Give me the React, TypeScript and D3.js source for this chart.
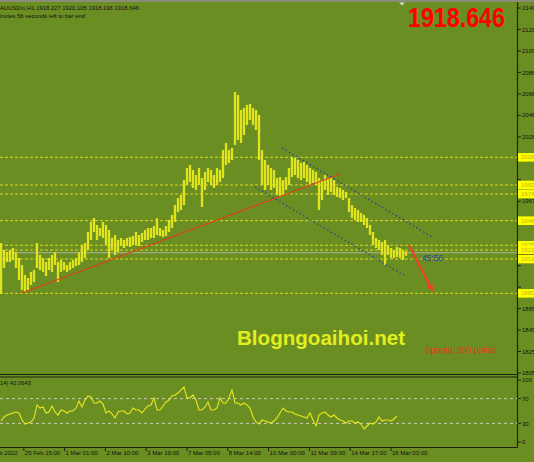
import React from 'react';
import * as d3 from 'd3';

const W = 534;
const H = 462;

const priceHigh = [
  1927.8, 1921.2, 1919.3, 1921.2, 1923.1, 1919.3, 1913.7, 1907.1, 1897.6, 1894.8,
  1900.5, 1902.3, 1927.8, 1916.5, 1913.7, 1909.9, 1913.7, 1916.5, 1919.3, 1909.9,
  1911.8, 1909.9, 1907.1, 1909.9, 1911.8, 1913.7, 1919.3, 1926.0, 1927.8, 1938.2,
  1947.7, 1951.4, 1944.8, 1942.0, 1947.7, 1944.8, 1940.1, 1932.6, 1935.4, 1930.7,
  1932.6, 1930.7, 1932.6, 1933.5, 1934.4, 1938.2, 1935.4, 1937.3, 1940.1, 1942.0,
  1942.0, 1943.9, 1951.4, 1942.0, 1940.1, 1943.9, 1949.6, 1954.3, 1963.7, 1970.3,
  1973.2, 1987.3, 1998.6, 2001.5, 1996.8, 1992.0, 1998.6, 1989.2, 1994.9, 1998.6,
  1996.8, 1992.0, 1998.6, 1996.8, 2015.6, 2022.2, 2015.6, 2017.5, 2070.4, 2067.6,
  2053.4, 2055.3, 2058.1, 2059.1, 2055.3, 2053.4, 2048.7, 2015.6, 2006.2, 2001.5,
  1998.6, 1996.8, 1989.2, 1990.1, 1987.3, 1990.1, 1998.6, 2009.0, 2008.1, 2006.2,
  2003.4, 2004.3, 2001.5, 1998.6, 1996.8, 1994.9, 1989.2, 1987.3, 1992.0, 1989.2,
  1990.1, 1987.3, 1980.7, 1979.8, 1977.9, 1976.0, 1970.3, 1963.7, 1960.9, 1959.0,
  1956.2, 1954.3, 1951.4, 1944.8, 1938.2, 1932.6, 1930.7, 1928.8, 1930.7, 1926.0,
  1923.1, 1921.2, 1924.1, 1923.1, 1921.2, 1920.1,
];

const priceLow = [
  1879.7, 1904.2, 1909.9, 1909.9, 1911.8, 1904.2, 1892.9, 1883.5, 1881.6, 1883.5,
  1888.2, 1891.0, 1904.2, 1902.3, 1900.5, 1896.7, 1902.3, 1900.5, 1907.1, 1891.0,
  1900.5, 1902.3, 1900.5, 1902.3, 1904.2, 1906.1, 1907.1, 1909.9, 1913.7, 1921.2,
  1930.7, 1938.2, 1930.7, 1934.4, 1932.6, 1926.0, 1913.7, 1921.2, 1916.5, 1919.3,
  1925.0, 1923.1, 1925.0, 1924.1, 1926.0, 1926.0, 1925.0, 1928.8, 1930.7, 1930.7,
  1932.6, 1932.6, 1935.4, 1934.4, 1933.5, 1934.4, 1938.2, 1942.0, 1947.7, 1957.1,
  1959.0, 1963.7, 1982.6, 1985.4, 1979.8, 1977.9, 1982.6, 1961.8, 1977.9, 1985.4,
  1982.6, 1979.8, 1982.6, 1985.4, 1989.2, 2001.5, 2003.4, 2006.2, 2020.4, 2025.1,
  2022.2, 2029.8, 2039.2, 2044.0, 2039.2, 2034.5, 2006.2, 1982.6, 1977.9, 1982.6,
  1977.9, 1979.8, 1973.2, 1971.3, 1972.2, 1977.9, 1982.6, 1990.1, 1992.0, 1989.2,
  1987.3, 1989.2, 1985.4, 1982.6, 1984.5, 1982.6, 1959.0, 1968.4, 1977.9, 1973.2,
  1976.0, 1973.2, 1971.3, 1970.3, 1968.4, 1970.3, 1957.1, 1951.4, 1949.6, 1947.7,
  1947.7, 1944.8, 1942.0, 1935.4, 1926.0, 1923.1, 1921.2, 1916.5, 1907.1, 1916.5,
  1913.7, 1913.7, 1914.6, 1913.7, 1911.8, 1915.6,
];

const rsiValues = [
  33.9, 40.3, 43.5, 45.2, 46.8, 48.4, 46.8, 35.5, 29.0, 30.6,
  32.3, 38.7, 59.7, 54.8, 56.5, 46.8, 48.4, 58.1, 48.4, 43.5,
  51.6, 50.0, 46.8, 50.0, 50.0, 54.8, 66.1, 56.5, 67.7, 74.2,
  72.6, 62.9, 62.9, 66.1, 61.3, 46.8, 50.0, 45.2, 38.7, 48.4,
  50.0, 50.0, 45.2, 46.8, 54.8, 51.6, 51.6, 46.8, 53.2, 58.1,
  59.7, 71.0, 51.6, 51.6, 58.1, 64.5, 67.7, 74.2, 75.8, 79.0,
  83.9, 88.7, 71.0, 71.0, 75.8, 67.7, 51.6, 51.6, 56.5, 64.5,
  51.6, 51.6, 54.8, 71.0, 62.9, 62.9, 71.0, 83.9, 62.9, 62.9,
  59.7, 62.9, 59.7, 54.8, 40.3, 32.3, 29.0, 35.5, 33.9, 32.3,
  30.6, 33.9, 38.7, 46.8, 54.8, 50.0, 48.4, 48.4, 45.2, 43.5,
  41.9, 40.3, 38.7, 46.8, 35.5, 25.8, 43.5, 46.8, 48.4, 43.5,
  40.3, 43.5, 38.7, 35.5, 33.9, 30.6, 33.9, 33.9, 30.6, 32.3,
  29.0, 21.0, 25.8, 30.6, 29.0, 32.3, 40.3, 33.9, 35.5, 35.5,
  33.9, 37.1, 42.06,
];

const priceTicks = [
  2149.69, 2129.42, 2109.15, 2088.88, 2068.61, 2048.34, 2028.07, 2007.8, 1987.53,
  1967.26, 1946.99, 1926.72, 1906.45, 1886.18, 1865.91, 1845.64, 1825.37, 1805.1,
];
const levelLines = [2008.7, 1982.6, 1974.1, 1948.9, 1925.7, 1921.2, 1912.7, 1880.3];
const rsiTicks = [100, 70, 30, 0];
const rsiLevels = [70, 30];
const dateLabels = [
  '24 Feb 2022', '25 Feb 15:00', '1 Mar 01:00', '2 Mar 10:00', '3 Mar 19:00',
  '7 Mar 05:00', '8 Mar 14:00', '10 Mar 00:00', '11 Mar 09:00', '14 Mar 17:00', '16 Mar 03:00',
];
const bid = 1918.646;
const ohlc = ['1918.227', '1920.105', '1918.196', '1918.646'];
const symbol = 'XAUUSDm,H1';
const rsiTitle = 'RSI(14) 42.0643';
const timerText = '45 minutes 56 seconds left to bar end';
const countdown = '45:56';
const watermark = 'Blogngoaihoi.net';
const spreadText = 'Spread: 200 points.';
// trend objects: [barIndex, price]
const trendRed: [number, number][] = [[7, 1880.6], [113, 1993.0]];
const channelUpper: [number, number][] = [[93.7, 2017.5], [143.7, 1933.5]];
const channelLower: [number, number][] = [[84.7, 1980.7], [134.7, 1896.7]];
const arrowLine: [number, number][] = [[136, 1926.0], [144, 1881.6]];

const FONT = "'Liberation Sans', Arial, sans-serif";
const BG = '#6B8E23';
const BAR = '#E0E41C';
const LEVEL = '#D9DC22';
const DARK = '#1E2410';

export default function App() {
  const x = d3.scaleLinear().domain([0, priceHigh.length - 1]).range([1, 406]);
  const y = d3.scaleLinear().domain([1805.1, 2149.69]).range([373, 8]);
  const ry = d3.scaleLinear().domain([0, 100]).range([442, 380]);
  const dx = d3.scalePoint<string>().domain(dateLabels).range([-16, 392]);

  const rsiLine = d3
    .line<number>()
    .x((_, i) => x(i))
    .y((d) => ry(d))(rsiValues) as string;

  const seg = (p: [number, number][]) => ({
    x1: x(p[0][0]), y1: y(p[0][1]), x2: x(p[1][0]), y2: y(p[1][1]),
  });
  const red = seg(trendRed);
  const up = seg(channelUpper);
  const lo = seg(channelLower);
  const ar = seg(arrowLine);
  const ang = Math.atan2(ar.y2 - ar.y1, ar.x2 - ar.x1);
  const headLen = 8;
  const headW = 3.5;
  const bx = ar.x2 - headLen * Math.cos(ang);
  const by = ar.y2 - headLen * Math.sin(ang);
  const head = [
    [ar.x2, ar.y2],
    [bx + headW * Math.sin(ang), by - headW * Math.cos(ang)],
    [bx - headW * Math.sin(ang), by + headW * Math.cos(ang)],
  ]
    .map((p) => p.join(','))
    .join(' ');

  const axisX = 517.5;
  // tick labels hidden under the highlighted level labels are not drawn
  const visibleTicks = priceTicks.filter(
    (v) => !levelLines.some((l) => Math.abs(y(l) - y(v)) < 7)
  );

  return (
    <svg
      width={W}
      height={H}
      style={{ position: 'absolute', left: 0, top: 0, display: 'block' }}
      fontFamily={FONT}
    >
      <rect x={0} y={0} width={W} height={H} fill={BG} />
      <rect x={0} y={0} width={W} height={2} fill="#8A8C78" />
      <path d="M399,2.5 L405,2.5 L402,5.5 Z" fill="#D8D8D0" />

      {/* level lines */}
      {levelLines.map((v, i) => (
        <line key={'lv' + i} x1={0} x2={axisX} y1={y(v)} y2={y(v)} stroke={LEVEL} strokeWidth={1} strokeDasharray="3,2" />
      ))}

      {/* bid line */}
      <line x1={0} x2={axisX} y1={y(bid)} y2={y(bid)} stroke="#B0B4A0" strokeWidth={1} />

      {/* price bars */}
      {priceHigh.map((h, i) => (
        <line key={'b' + i} x1={x(i)} x2={x(i)} y1={y(h)} y2={y(priceLow[i])} stroke={BAR} strokeWidth={2.3} />
      ))}

      {/* trend objects */}
      <line {...red} stroke="#E0401A" strokeWidth={1.1} />
      <line {...up} stroke="#2A3E9A" strokeWidth={1.2} strokeDasharray="1.5,2.5" />
      <line {...lo} stroke="#2A3E9A" strokeWidth={1.2} strokeDasharray="1.5,2.5" />
      <line x1={ar.x1} y1={ar.y1} x2={bx} y2={by} stroke="#F0402C" strokeWidth={2.2} />
      <polygon points={head} fill="#F0402C" />
      <text x={x(140.3)} y={260.5} fontSize={8.5} fill="#2E40B0" fontFamily={FONT}>{countdown}</text>

      {/* texts */}
      <text x={-4} y={9.5} fontSize={6} fill="#111" textLength={143} lengthAdjust="spacingAndGlyphs">
        {symbol + '  ' + ohlc.join(' ')}
      </text>
      <text x={-13.5} y={17.5} fontSize={6} fill="#111" textLength={98.5} lengthAdjust="spacingAndGlyphs">
        {timerText}
      </text>
      <g transform="translate(408,27) scale(0.83,1)">
        <text x={0} y={0} fontSize={28} fontWeight="bold" fill="#FF0000">
          {bid.toFixed(3)}
        </text>
      </g>
      <text x={237} y={345} fontSize={20.5} fontWeight="bold" fill="#E2EE1E" textLength={168} lengthAdjust="spacingAndGlyphs">
        {watermark}
      </text>
      <text x={425} y={353} fontSize={8.5} fill="#E8341A">{spreadText}</text>

      {/* right price axis */}
      <line x1={axisX} x2={axisX} y1={2} y2={447.5} stroke={DARK} strokeWidth={1.2} />
      {priceTicks.map((v, i) => (
        <line key={'ptl' + i} x1={axisX} x2={521} y1={y(v)} y2={y(v)} stroke={DARK} strokeWidth={1} />
      ))}
      {visibleTicks.map((v, i) => (
        <text key={'pt' + i} x={522} y={y(v)} dy="0.35em" fontSize={6} fill="#111">{v.toFixed(2)}</text>
      ))}
      <rect x={518} y={y(bid) - 4} width={16} height={8} fill="#000" />
      {levelLines.map((v, i) => (
        <g key={'ll' + i}>
          <rect x={518} y={y(v) - 4.3} width={16} height={8.6} fill="#FFFF00" />
          <text x={521} y={y(v)} dy="0.35em" fontSize={6} fill="#BDBD00">{v.toFixed(3)}</text>
        </g>
      ))}

      {/* separator */}
      <line x1={0} x2={axisX} y1={374.5} y2={374.5} stroke={DARK} strokeWidth={1} />
      <line x1={0} x2={axisX} y1={377} y2={377} stroke={DARK} strokeWidth={1.2} />

      {/* RSI subwindow */}
      {rsiLevels.map((v) => (
        <line key={'rl' + v} x1={0} x2={axisX} y1={ry(v)} y2={ry(v)} stroke="#C9CDB4" strokeWidth={1} strokeDasharray="3,3" />
      ))}
      <path d={rsiLine} fill="none" stroke="#E8E820" strokeWidth={1.1} />
      <text x={-11.5} y={385} fontSize={6} fill="#111" textLength={42.5} lengthAdjust="spacingAndGlyphs">{rsiTitle}</text>
      {rsiTicks.map((v) => (
        <g key={'rt' + v}>
          <line x1={axisX} x2={521} y1={ry(v)} y2={ry(v)} stroke={DARK} strokeWidth={1} />
          <text x={522} y={ry(v)} dy="0.35em" fontSize={6} fill="#111">{v}</text>
        </g>
      ))}
      <line x1={0} x2={axisX} y1={447.5} y2={447.5} stroke={DARK} strokeWidth={1.2} />

      {/* date axis */}
      {dateLabels.map((d) => (
        <g key={d}>
          <line x1={(dx(d) as number) - 1} x2={(dx(d) as number) - 1} y1={447.5} y2={451} stroke={DARK} strokeWidth={1} />
          <text x={dx(d) as number} y={455} fontSize={6} fill="#111">{d}</text>
        </g>
      ))}
    </svg>
  );
}
